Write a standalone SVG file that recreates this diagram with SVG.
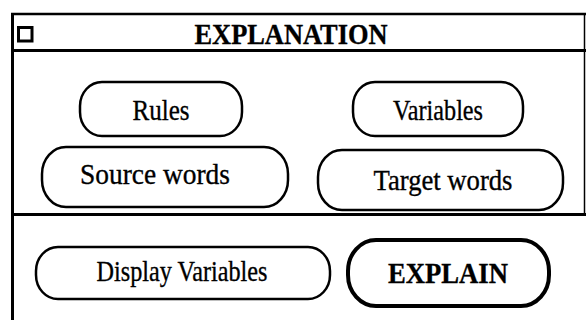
<svg xmlns="http://www.w3.org/2000/svg" width="586" height="320" viewBox="0 0 586 320">
  <style>
    .frame { fill: none; stroke: #000; }
    .btn { fill: #fff; stroke: #000; stroke-width: 2.5; }
    .btn-default { fill: #fff; stroke: #000; stroke-width: 4; }
    .label { font-family: "Liberation Serif", "Times New Roman", serif; font-size: 30px; fill: #000; stroke: #000; stroke-width: 0.35; text-anchor: middle; }
    .bold { font-weight: bold; }
  </style>
  <rect width="586" height="320" fill="#fff"/>

  <!-- window frame -->
  <g id="window">
    <line class="frame" x1="12.5" y1="13" x2="12.5" y2="320" stroke-width="3"/>
    <line class="frame" x1="11" y1="14" x2="586" y2="14" stroke-width="2.5"/>
    <line class="frame" x1="584.5" y1="13" x2="584.5" y2="215" stroke-width="1.5"/>
    <line class="frame" x1="11" y1="50.5" x2="586" y2="50.5" stroke-width="3"/>
    <line class="frame" x1="11" y1="214.5" x2="586" y2="214.5" stroke-width="3"/>
  </g>

  <!-- title bar -->
  <g id="title-bar">
    <rect x="18.5" y="27.5" width="13.5" height="13.5" fill="none" stroke="#000" stroke-width="3"/>
    <text class="label bold" x="291" y="44" font-size="25" textLength="193" lengthAdjust="spacingAndGlyphs">EXPLANATION</text>
  </g>

  <g id="rules">
    <rect class="btn" x="80" y="82" width="162" height="54" rx="22" ry="24"/>
    <text class="label" x="161" y="120" textLength="57" lengthAdjust="spacingAndGlyphs">Rules</text>
  </g>

  <g id="variables">
    <rect class="btn" x="353" y="82" width="170" height="54" rx="22" ry="24"/>
    <text class="label" x="438" y="120" textLength="90" lengthAdjust="spacingAndGlyphs">Variables</text>
  </g>

  <g id="source-words">
    <rect class="btn" x="42" y="147" width="246" height="60" rx="24" ry="27"/>
    <text class="label" x="155" y="184" textLength="150" lengthAdjust="spacingAndGlyphs">Source words</text>
  </g>

  <g id="target-words">
    <rect class="btn" x="318" y="150" width="245" height="60" rx="24" ry="27"/>
    <text class="label" x="443" y="190" textLength="139" lengthAdjust="spacingAndGlyphs">Target words</text>
  </g>

  <g id="display-variables">
    <rect class="btn" x="36" y="247" width="294" height="52" rx="22" ry="24"/>
    <text class="label" x="182" y="281" textLength="171" lengthAdjust="spacingAndGlyphs">Display Variables</text>
  </g>

  <g id="explain">
    <rect class="btn-default" x="348" y="240" width="201" height="66" rx="28" ry="31"/>
    <text class="label bold" x="448" y="283" textLength="120" lengthAdjust="spacingAndGlyphs">EXPLAIN</text>
  </g>

  <g id="connectors"/>
</svg>
